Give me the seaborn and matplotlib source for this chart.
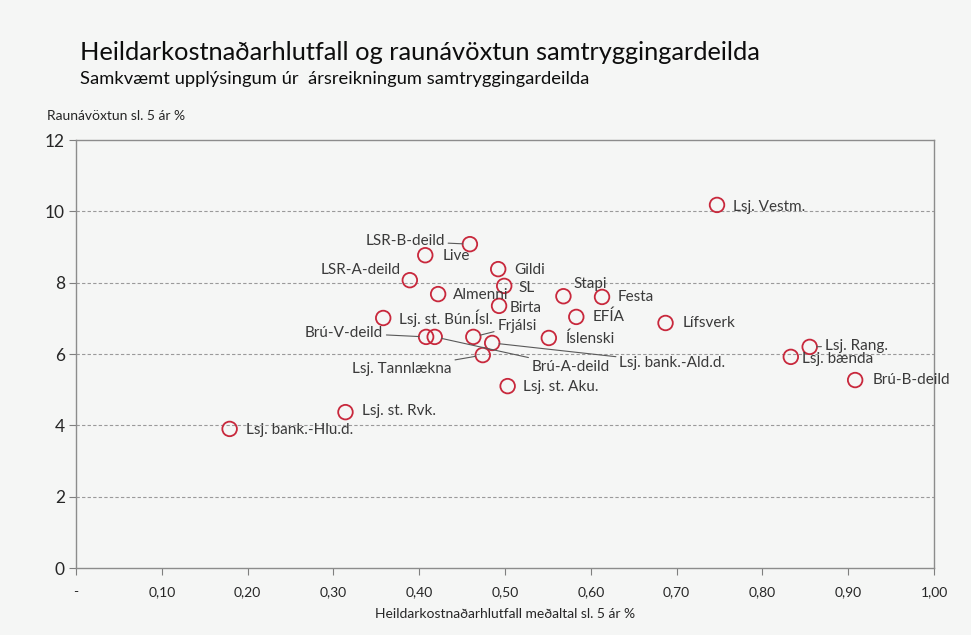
import numpy as np
import pandas as pd
import matplotlib
matplotlib.use("Agg")
import matplotlib.pyplot as plt
import seaborn as sns

# Data
sjodir = [
    "Lsj. Vestm.", "LSR-B-deild", "Live", "Gildi", "LSR-A-deild", "SL",
    "Almenni", "Stapi", "Festa", "Birta", "EFÍA", "Lsj. st. Bún.Ísl.",
    "Lífsverk", "Frjálsi", "Brú-V-deild", "Brú-A-deild", "Lsj. bank.-Ald.d.",
    "Lsj. Tannlækna", "Íslenski", "Lsj. st. Aku.", "Lsj. st. Rvk.",
    "Lsj. bank.-Hlu.d.", "Lsj. Rang.", "Lsj. bænda", "Brú-B-deild",
]
kostnadur = [
    0.747, 0.459, 0.407, 0.492, 0.389, 0.499,
    0.422, 0.568, 0.613, 0.493, 0.583, 0.358,
    0.687, 0.463, 0.408, 0.418, 0.485,
    0.474, 0.551, 0.503, 0.314,
    0.179, 0.855, 0.833, 0.908,
]
raunavoxtun = [
    10.18, 9.08, 8.77, 8.38, 8.07, 7.91,
    7.68, 7.62, 7.60, 7.35, 7.04, 7.01,
    6.87, 6.48, 6.48, 6.48, 6.31,
    5.97, 6.45, 5.10, 4.37,
    3.90, 6.20, 5.92, 5.27,
]
x_ticks = [0.0, 0.1, 0.2, 0.3, 0.4, 0.5, 0.6, 0.7, 0.8, 0.9, 1.0]
x_ticklabels = ["-", "0,10", "0,20", "0,30", "0,40", "0,50", "0,60", "0,70", "0,80", "0,90", "1,00"]
y_ticks = [0, 2, 4, 6, 8, 10, 12]

# Label placement: offset in pixels, alignment, leader line
label_pos = {
    "Lsj. Vestm.": (16, -2, "left", False),
    "LSR-B-deild": (-25, 3, "right", True),
    "Live": (17, -1, "left", False),
    "Gildi": (16, -1, "left", False),
    "LSR-A-deild": (-9, 10, "right", False),
    "SL": (14, -2, "left", False),
    "Almenni": (15, -1, "left", False),
    "Stapi": (10, 12, "left", False),
    "Festa": (16, 0, "left", False),
    "Birta": (11, -2, "left", False),
    "EFÍA": (16, 0, "left", False),
    "Lsj. st. Bún.Ísl.": (16, 0, "left", False),
    "Lífsverk": (17, 0, "left", False),
    "Frjálsi": (24, 11, "left", True),
    "Brú-V-deild": (-43, 4, "right", True),
    "Brú-A-deild": (97, -30, "left", True),
    "Lsj. bank.-Ald.d.": (127, -20, "left", True),
    "Lsj. Tannlækna": (-31, -14, "right", True),
    "Íslenski": (17, -1, "left", False),
    "Lsj. st. Aku.": (15, -1, "left", False),
    "Lsj. st. Rvk.": (17, 1, "left", False),
    "Lsj. bank.-Hlu.d.": (16, -1, "left", False),
    "Lsj. Rang.": (15, 1, "left", True),
    "Lsj. bænda": (11, -2, "left", False),
    "Brú-B-deild": (17, 0, "left", False),
}

df = pd.DataFrame({"sjodur": sjodir, "x": kostnadur, "y": raunavoxtun})

sns.set_theme(style="white")
plt.rcParams["font.family"] = ["Lato", "DejaVu Sans"]
bg = "#f5f6f5"
text_col = "#3a3a3a"

fig = plt.figure(figsize=(9.71, 6.35), dpi=100, facecolor=bg)
ax = fig.add_axes([0.0783, 0.1055, 0.8837, 0.674])
ax.set_facecolor(bg)

sns.scatterplot(data=df, x="x", y="y", ax=ax, s=110, facecolor="none",
                edgecolor="#c8283c", linewidth=1.3, zorder=3)

for name, xv, yv in zip(sjodir, kostnadur, raunavoxtun):
    dx, dy, ha, line = label_pos[name]
    arrow = dict(arrowstyle="-", color="#595959", lw=0.8, shrinkA=0, shrinkB=5) if line else None
    ax.annotate(name, (xv, yv), xytext=(dx, dy), textcoords="offset pixels",
                ha=ha, va="center", fontsize=11, color=text_col,
                arrowprops=arrow, zorder=4)

ax.set_xlim(0, 1.0)
ax.set_ylim(0, 12)
ax.set_xticks(x_ticks)
ax.set_xticklabels(x_ticklabels)
ax.set_yticks(y_ticks)
ax.tick_params(axis="x", labelsize=10, length=5, width=0.8, direction="out", pad=8, bottom=True, color="#7f7f7f")
ax.tick_params(axis="y", labelsize=12.5, length=5, width=0.8, direction="out", pad=3, left=True, color="#7f7f7f")
for lbl in ax.get_xticklabels() + ax.get_yticklabels():
    lbl.set_color("#262626")

ax.grid(False)
for yv in y_ticks[1:-1]:
    ax.axhline(yv, color="#9a9a9a", lw=0.8, ls=(0, (3, 2)), zorder=1)
for side in ["left", "right", "bottom", "top"]:
    ax.spines[side].set_visible(True)
    ax.spines[side].set_color("#8c8c8c")
    ax.spines[side].set_linewidth(1.0)

ax.set_xlabel("Heildarkostnaðarhlutfall meðaltal sl. 5 ár %", fontsize=10, color="#262626", labelpad=7)
ax.set_ylabel("")

fig.text(0.048, 0.817, "Raunávöxtun sl. 5 ár %", fontsize=10, color="#262626", va="center")
fig.text(0.082, 0.918, "Heildarkostnaðarhlutfall og raunávöxtun samtryggingardeilda",
         fontsize=18.3, color="#0d0d0d", va="center")
fig.text(0.082, 0.876, "Samkvæmt upplýsingum úr  ársreikningum samtryggingardeilda",
         fontsize=13.2, color="#0d0d0d", va="center")

fig.savefig("out.png", dpi=100, facecolor=bg)
